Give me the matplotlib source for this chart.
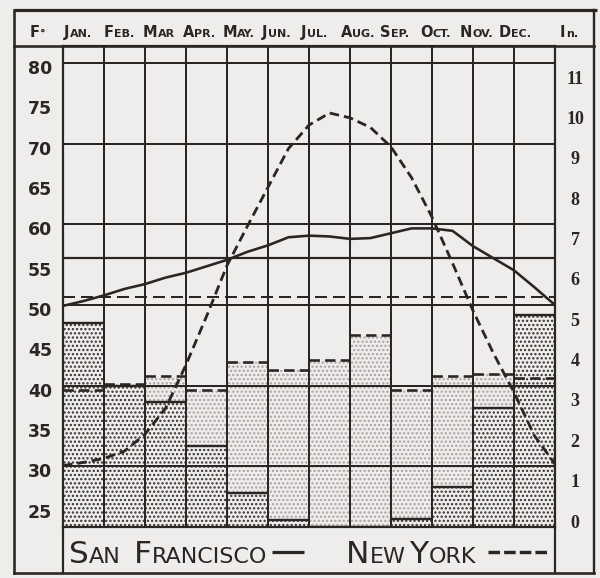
import numpy as np
import matplotlib.pyplot as plt

# monthly header (big first letter, rest in small caps)
header = [('J', 'AN.'), ('F', 'EB.'), ('M', 'AR'), ('A', 'PR.'), ('M', 'AY.'), ('J', 'UN.'),
          ('J', 'UL.'), ('A', 'UG.'), ('S', 'EP.'), ('O', 'CT.'), ('N', 'OV.'), ('D', 'EC.')]

# temperature curves (deg F), read every half month from Jan 1 to Dec 31
sf_temp = [49.9, 50.5, 51.2, 52.0, 52.6, 53.4, 54.0, 54.8, 55.6, 56.6, 57.4, 58.4, 58.6,
           58.5, 58.2, 58.3, 58.9, 59.5, 59.5, 59.2, 57.3, 55.8, 54.3, 52.2, 50.0]
ny_temp = [30.1, 30.5, 31.0, 31.9, 34.0, 37.2, 42.6, 48.6, 54.9, 59.8, 64.6, 69.4, 72.3,
           73.8, 73.2, 72.0, 69.6, 65.8, 60.9, 55.2, 49.3, 44.0, 39.2, 33.8, 30.3]
sf_mean = 55.8
ny_mean = 51.0

# precipitation (inches) per month
sf_rain = [5.05, 3.5, 3.1, 2.0, 0.85, 0.17, 0.0, 0.0, 0.2, 1.0, 2.95, 5.25]
ny_rain = [3.4, 3.55, 3.75, 3.4, 4.1, 3.9, 4.15, 4.75, 3.4, 3.75, 3.8, 3.7]

temp_ticks = list(range(25, 81, 5))
rain_ticks = list(range(0, 12))

bg = '#efedeb'
ink = '#2a2624'

plt.rcParams['hatch.linewidth'] = 1.1

fig = plt.figure(figsize=(6, 5.78), dpi=100, facecolor=bg)

# frame / header / legend drawn in pixel coordinates
frame = fig.add_axes([0, 0, 1, 1], zorder=0)
frame.set_xlim(0, 600)
frame.set_ylim(578, 0)
frame.axis('off')


def smallcaps(x, y, parts, **kw):
    prev = None
    for text, size, dx in parts:
        if prev is None:
            prev = frame.text(x, y, text, fontsize=size, ha='left', va='baseline', color=ink, **kw)
        else:
            prev = frame.annotate(text, xy=(1, y), xycoords=(prev, 'data'), xytext=(dx, 0),
                                  textcoords='offset points', fontsize=size, ha='left',
                                  va='baseline', color=ink, **kw)
    return prev


lw_px = 0.72
frame.plot([14, 597], [10, 10], color=ink, lw=3.2 * lw_px, solid_capstyle='butt')
frame.plot([14, 594], [573, 573], color=ink, lw=2.6 * lw_px)
frame.plot([14, 14], [10, 573], color=ink, lw=2.6 * lw_px)
frame.plot([594, 594], [10, 573], color=ink, lw=2.4 * lw_px)
frame.plot([14, 594], [46, 46], color=ink, lw=2.6 * lw_px)
frame.plot([63, 63], [527, 573], color=ink, lw=2.2 * lw_px)
frame.plot([555, 555], [527, 573], color=ink, lw=2.2 * lw_px)

# header labels
big, small = 10.5, 8
smallcaps(30, 37, [('F', big, 0), ('°', small, 0.2)], fontweight='bold')
for (a, b), x in zip(header, np.linspace(64, 499, 12)):
    smallcaps(x, 37, [(a, big, 0), (b, small, 0.2)], fontweight='bold')
smallcaps(560, 37, [('I', big, 0), ('n.', small, 0.2)], fontweight='bold')

# legend band
lbig, lsmall = 22.5, 16
smallcaps(69, 563, [('S', lbig, 0), ('AN', lsmall, 0.2)])
smallcaps(134, 563, [('F', lbig, 0), ('RANCISCO', lsmall, 0.2)])
smallcaps(346, 563, [('N', lbig, 0), ('EW', lsmall, 0.2)])
smallcaps(409, 563, [('Y', lbig, 0), ('ORK', lsmall, 0.2)])
frame.plot([272, 304], [552, 552], color=ink, lw=3.2 * lw_px, solid_capstyle='butt')
frame.plot([488, 550], [552, 552], color=ink, lw=3.4 * lw_px, dashes=(3.4, 1.2),
           solid_capstyle='butt')

# main chart
ax = fig.add_axes([63 / 600, 51 / 578, 492 / 600, 481 / 578])
ax2 = ax.twinx()
ax.set_zorder(2)
ax2.set_zorder(1)
ax.patch.set_visible(False)
ax2.patch.set_visible(False)

ax.set_xlim(0, 12)
ax.set_ylim(22.5, 82.1)
ax2.set_ylim(0, (82.1 - 22.5) / 5)

months = np.arange(12)
ax2.bar(months, ny_rain, width=1, align='edge', facecolor=bg, edgecolor='#a8a39f',
        linewidth=0, hatch='....')
ax2.bar(months, sf_rain, width=1, align='edge', facecolor=bg, edgecolor='#34302d',
        linewidth=0, hatch='....')
ax2.hlines(ny_rain, months, months + 1, colors=ink, lw=2.6 * lw_px, linestyles=(0, (4, 2)))
ax2.hlines(sf_rain, months, months + 1, colors=ink, lw=2.4 * lw_px)

ax.hlines(range(30, 81, 10), 0, 12, colors=ink, lw=2.0 * lw_px)
ax.vlines(range(1, 12), 22.5, 82.1, colors=ink, lw=2.0 * lw_px)
ax.axhline(sf_mean, color=ink, lw=2.2 * lw_px)
ax.axhline(ny_mean, color=ink, lw=2.0 * lw_px, dashes=(6, 3))

half = np.arange(25) / 2
ax.plot(half, sf_temp, color=ink, lw=2.6 * lw_px, solid_joinstyle='round')
ax.plot(half, ny_temp, color=ink, lw=2.8 * lw_px, dashes=(3.4, 1.8))

for a in (ax, ax2):
    a.tick_params(left=False, right=False, bottom=False, top=False,
                  labelleft=False, labelright=False, labelbottom=False)
for s in ax.spines.values():
    s.set_color(ink)
    s.set_linewidth(2.2 * lw_px)
for s in ax2.spines.values():
    s.set_visible(False)

for t in temp_ticks:
    ax.annotate(str(t), xy=(0, t), xycoords=ax.get_yaxis_transform(),
                xytext=(-23 * lw_px, -6 * lw_px), textcoords='offset points',
                ha='center', va='center', fontsize=12.5, fontweight='bold', color=ink)
for r in rain_ticks:
    ax2.annotate(str(r), xy=(1, r), xycoords=ax2.get_yaxis_transform(),
                 xytext=(20 * lw_px, 4 * lw_px), textcoords='offset points',
                 ha='center', va='center', fontsize=13, fontweight='bold',
                 family='Liberation Serif', color=ink)

fig.savefig('out.png', dpi=100, facecolor=bg)
